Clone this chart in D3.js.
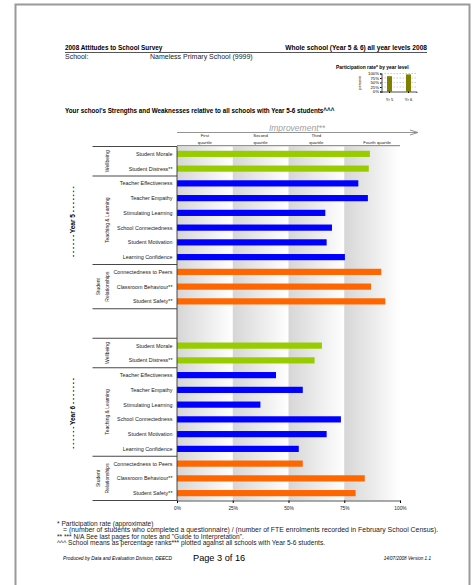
<!DOCTYPE html>
<html>
<head>
<meta charset="utf-8">
<script src="https://cdn.jsdelivr.net/npm/d3@7"></script>
<style>
  body { margin: 0; background: #fff; }
  svg { display: block; font-family: "Liberation Sans", Arial, sans-serif; }
</style>
</head>
<body>
<div id="chart"></div>
<script>
// measures, in the order they appear for each year level
const measures = [
  "Student Morale", "Student Distress**",
  "Teacher Effectiveness", "Teacher Empathy", "Stimulating Learning",
  "School Connectedness", "Student Motivation", "Learning Confidence",
  "Connectedness to Peers", "Classroom Behaviour**", "Student Safety**"
]
const measureGroup = [
  "Wellbeing", "Wellbeing",
  "Teaching", "Teaching", "Teaching", "Teaching", "Teaching", "Teaching",
  "Relationships", "Relationships", "Relationships"
]
const groups = [
  { key: "Wellbeing", lines: ["Wellbeing"] },
  { key: "Teaching", lines: ["Teaching & Learning"] },
  { key: "Relationships", lines: ["Student", "Relationships"] }
]
const colorOf = { Wellbeing: "#99cc00", Teaching: "#0000ff", Relationships: "#ff6600" }

const year5 = [86.5, 86, 81.3, 85.6, 66.5, 69.5, 67.1, 75.3, 91.6, 87, 93.4]
const year6 = [65, 61.7, 44.4, 56.4, 37.4, 73.5, 67.1, 54.6, 56.4, 84.2, 80.1]
const yearLevels = ["Year 5", "Year 6"]

const quartileTicks = [0, 25, 50, 75, 100]
const quartileNames = [["First", "quartile"], ["Second", "quartile"], ["Third", "quartile"], ["Fourth quartile"]]

const participationYears = ["Yr 5", "Yr 6"]
const participation = [85, 95]
const participationTicks = [0, 25, 50, 75, 100]

const width = 474, height = 585

const svg = d3.select("#chart").append("svg")
  .attr("width", width).attr("height", height)

// page frame
svg.append("path").attr("d", "M15.5,590 V4.5 H469.5 V590")
  .attr("fill", "none").attr("stroke", "#9a9a9a").attr("stroke-width", 2)

// header
svg.append("text").attr("x", 65).attr("y", 50).attr("font-size", 6.4).attr("font-weight", "bold")
  .text("2008 Attitudes to School Survey")
svg.append("text").attr("x", 427).attr("y", 50).attr("font-size", 6.6).attr("font-weight", "bold")
  .attr("text-anchor", "end").text("Whole school (Year 5 & 6)  all year levels  2008")
svg.append("line").attr("x1", 65).attr("x2", 427).attr("y1", 52.5).attr("y2", 52.5)
  .attr("stroke", "#555").attr("stroke-width", 1)
svg.append("text").attr("x", 65).attr("y", 59).attr("font-size", 7).attr("fill", "#222").text("School:")
svg.append("text").attr("x", 150).attr("y", 59).attr("font-size", 7).attr("fill", "#222").text("Nameless Primary School (9999)")

// participation mini chart
const px = d3.scaleBand().domain(participationYears).range([381.5, 416.5]).paddingInner(0.737).paddingOuter(0.29)
const py = d3.scaleLinear().domain([0, 100]).range([91.5, 73.5])
const pg = svg.append("g")
pg.append("text").attr("x", 336).attr("y", 69).attr("font-size", 4.9).attr("font-weight", "bold")
  .text("Participation rate* by year level")
pg.append("g").selectAll("line").data(participationTicks.slice(1)).join("line")
  .attr("x1", 381.5).attr("x2", 416.5).attr("y1", d => py(d)).attr("y2", d => py(d))
  .attr("stroke", "#999").attr("stroke-width", 0.5).attr("stroke-dasharray", "1.5,1.5")
pg.append("g").selectAll("rect").data(participation).join("rect")
  .attr("x", (d, i) => px(participationYears[i])).attr("width", px.bandwidth())
  .attr("y", d => py(d)).attr("height", d => py(0) - py(d))
  .attr("fill", "#808000")
pg.append("g").attr("transform", "translate(381.5,0)")
  .call(d3.axisLeft(py).tickValues(participationTicks).tickFormat(d => d + "%").tickSize(1.5).tickPadding(1))
  .call(g => g.selectAll("text").attr("font-size", 4.3).attr("font-family", null))
  .call(g => g.select(".domain").attr("stroke-width", 0.7))
pg.append("g").attr("transform", `translate(0,${py(0)})`)
  .call(d3.axisBottom(px).tickSize(1.5).tickPadding(5))
  .call(g => g.selectAll("text").attr("font-size", 4).attr("font-family", null))
  .call(g => g.select(".domain").attr("stroke-width", 0.7))
pg.append("text").attr("transform", "translate(361,83) rotate(-90)").attr("text-anchor", "middle")
  .attr("font-size", 4).text("percent")

// section title
svg.append("text").attr("x", 65).attr("y", 113).attr("font-size", 6.3).attr("font-weight", "bold")
  .text("Your school's Strengths and Weaknesses relative to all schools with Year 5-6 students^^^")

// main chart
const rows = []
yearLevels.forEach((yl, k) => {
  measures.forEach((m, i) => rows.push({ key: yl + "|" + m, name: m, group: measureGroup[i], year: yl,
    value: (k === 0 ? year5 : year6)[i] }))
  if (k === 0) { rows.push({ key: "gap1" }); rows.push({ key: "gap2" }) }
})
const x = d3.scaleLinear().domain([0, 100]).range([177, 400])
const y = d3.scaleBand().domain(rows.map(d => d.key)).range([146.5, 500.5])

// quartile background gradients
const defs = svg.append("defs")
const grad = defs.append("linearGradient").attr("id", "qgrad")
grad.append("stop").attr("offset", "0%").attr("stop-color", "#d6d6d6")
grad.append("stop").attr("offset", "100%").attr("stop-color", "#ffffff")
svg.append("g").selectAll("rect").data(quartileTicks.slice(0, 4)).join("rect")
  .attr("x", d => x(d)).attr("width", d => x(d + 25) - x(d))
  .attr("y", y.range()[0]).attr("height", y.range()[1] - y.range()[0])
  .attr("fill", "url(#qgrad)")

// bars
const barH = 6.2
svg.append("g").selectAll("rect").data(rows.filter(d => d.value != null)).join("rect")
  .attr("x", x(0)).attr("width", d => x(d.value) - x(0))
  .attr("y", d => y(d.key) + y.bandwidth() / 2 - barH / 2).attr("height", barH)
  .attr("fill", d => colorOf[d.group])

// row labels
svg.append("g").attr("font-size", 5.4).attr("text-anchor", "end").attr("fill", "#222")
  .selectAll("text").data(rows.filter(d => d.value != null)).join("text")
  .attr("x", 172.5).attr("y", d => y(d.key) + y.bandwidth() / 2 + 1.9)
  .text(d => d.name)

// group brackets and labels
const bracket = svg.append("g")
yearLevels.forEach(yl => {
  const yRows = rows.filter(d => d.year === yl)
  const top = y(yRows[0].key), bottom = y(yRows[yRows.length - 1].key) + y.bandwidth()
  groups.forEach(gr => {
    const gRows = yRows.filter(d => d.group === gr.key)
    const g0 = y(gRows[0].key), g1 = y(gRows[gRows.length - 1].key) + y.bandwidth()
    bracket.append("line").attr("x1", 92.5).attr("x2", 177).attr("y1", g0).attr("y2", g0)
      .attr("stroke", "#333").attr("stroke-width", 0.9)
    const cy = (g0 + g1) / 2
    gr.lines.forEach((ln, j) => {
      const cx = gr.lines.length === 1 ? 108.5 : 100 + j * 8.5
      bracket.append("text").attr("transform", `translate(${cx},${cy}) rotate(-90)`)
        .attr("text-anchor", "middle").attr("font-size", 5).attr("fill", "#222").text(ln)
    })
  })
  bracket.append("line").attr("x1", 92.5).attr("x2", 177).attr("y1", bottom).attr("y2", bottom)
    .attr("stroke", "#333").attr("stroke-width", 0.9)
  bracket.append("text").attr("transform", `translate(75,${(top + bottom) / 2 - 6}) rotate(-90)`)
    .attr("text-anchor", "middle").attr("font-size", 6.5).attr("font-weight", "bold")
    .text("- - - - - - " + yl + " - - - - - - -")
})

// y axis line
svg.append("line").attr("x1", 177).attr("x2", 177).attr("y1", y.range()[0]).attr("y2", y.range()[1])
  .attr("stroke", "#333").attr("stroke-width", 0.9)

// x axis
svg.append("g").attr("transform", `translate(0,${y.range()[1]})`)
  .call(d3.axisBottom(x).tickValues(quartileTicks).tickFormat(d => d + "%").tickSize(2.5).tickPadding(4))
  .call(g => g.selectAll("text").attr("font-size", 4.8).attr("font-family", null).attr("fill", "#222"))
  .call(g => g.select(".domain").attr("stroke", "#555"))

// improvement arrow and quartile headings
svg.append("line").attr("x1", 177).attr("x2", 417).attr("y1", 132.5).attr("y2", 132.5)
  .attr("stroke", "#888").attr("stroke-width", 0.9)
svg.append("path").attr("d", "M410,130 L418,132.5 L410,135").attr("fill", "none").attr("stroke", "#888").attr("stroke-width", 0.9)
svg.append("text").attr("x", 297).attr("y", 130.5).attr("text-anchor", "middle").attr("font-size", 8.5)
  .attr("font-style", "italic").attr("fill", "#a0a0a0").text("Improvement**")
svg.append("g").attr("font-size", 4.3).attr("text-anchor", "middle").attr("fill", "#222")
  .selectAll("text").data(quartileNames).join("text")
  .attr("x", (d, i) => x(quartileTicks[i] + 12.5) + (i === 3 ? 5 : 0))
  .attr("y", d => d.length === 1 ? 143.5 : 137)
  .each(function (d) {
    d3.select(this).selectAll("tspan").data(d).join("tspan")
      .attr("x", d3.select(this).attr("x")).attr("dy", (t, j) => j ? 6.5 : 0).text(t => t)
  })
svg.append("line").attr("x1", 177).attr("x2", 400).attr("y1", 145.7).attr("y2", 145.7)
  .attr("stroke", "#555").attr("stroke-width", 0.8)

// footnotes
const notes = svg.append("g").attr("font-size", 6.6).attr("fill", "#222")
notes.append("text").attr("x", 57).attr("y", 525.5).text("*  Participation rate (approximate)")
notes.append("text").attr("x", 63).attr("y", 532).attr("font-size", 6.9)
  .text("= (number of students who completed a questionnaire) / (number of FTE enrolments recorded in February School Census).")
notes.append("text").attr("x", 57).attr("y", 538.5).text("**  ***  N/A  See last pages for notes and \"Guide to Interpretation\".")
notes.append("text").attr("x", 57).attr("y", 545).text("^^^  School means as percentage ranks*** plotted against all schools with Year 5-6 students.")

// footer
svg.append("text").attr("x", 63).attr("y", 560).attr("font-size", 4.8).attr("font-style", "italic")
  .text("Produced by Data and Evaluation Division, DEECD")
svg.append("text").attr("x", 193).attr("y", 561).attr("font-size", 9.2).text("Page 3 of 16")
svg.append("text").attr("x", 431).attr("y", 560).attr("font-size", 4.6).attr("font-style", "italic")
  .attr("text-anchor", "end").text("14/07/2008 Version 1.1")
</script>
</body>
</html>
